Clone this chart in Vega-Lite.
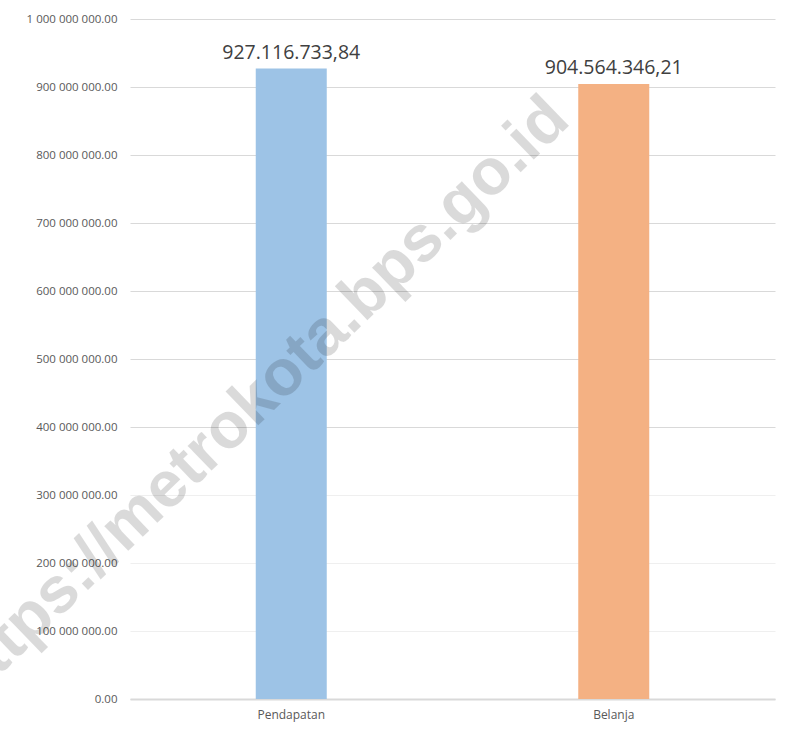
{
  "$schema": "https://vega.github.io/schema/vega-lite/v6.json",
  "width": 645,
  "height": 680,
  "autosize": {"type": "none"},
  "padding": {"left": 130, "top": 19, "right": 10, "bottom": 32},
  "background": "#ffffff",
  "data": {
    "values": [
      {"kategori": "Pendapatan", "nilai": 927116733.84},
      {"kategori": "Belanja", "nilai": 904564346.21}
    ]
  },
  "encoding": {
    "x": {
      "field": "kategori",
      "type": "nominal",
      "sort": ["Pendapatan", "Belanja"],
      "scale": {"paddingInner": 0, "paddingOuter": 0},
      "axis": {
        "title": null,
        "labelAngle": 0,
        "ticks": false,
        "domainColor": "#d9d9d9",
        "domainWidth": 2,
        "labelPadding": 10,
        "labelFont": "Open Sans",
        "labelFontSize": 12,
        "labelColor": "#595959"
      }
    },
    "y": {
      "field": "nilai",
      "type": "quantitative",
      "scale": {"domain": [0, 1000000000], "nice": false},
      "axis": {
        "title": null,
        "values": [0, 100000000, 200000000, 300000000, 400000000, 500000000, 600000000, 700000000, 800000000, 900000000, 1000000000],
        "labelExpr": "replace(replace(format(datum.value, ',.2f'), /\\./g, ' '), ',', '.')",
        "domain": false,
        "ticks": false,
        "labelPadding": 13,
        "labelFont": "Open Sans",
        "labelFontSize": 11.5,
        "labelColor": "#595959",
        "gridColor": {"condition": {"test": "datum.value < 350000000 && datum.value > 0", "value": "#efefef"}, "value": "#d9d9d9"},
        "gridWidth": 1
      }
    }
  },
  "layer": [
    {
      "mark": {"type": "bar", "size": 71},
      "encoding": {
        "color": {
          "field": "kategori",
          "type": "nominal",
          "scale": {"domain": ["Pendapatan", "Belanja"], "range": ["#9dc3e6", "#f4b183"]},
          "legend": null
        }
      }
    },
    {
      "mark": {"type": "text", "baseline": "alphabetic", "dy": -10, "font": "Open Sans", "fontSize": 19.5, "color": "#404040"},
      "encoding": {
        "text": {"field": "nilai", "type": "quantitative", "format": ",.2f"}
      }
    },
    {
      "data": {"values": [{"tanda": "https://metrokota.bps.go.id", "kategori": "Pendapatan", "posisi": 490000000}]},
      "mark": {"type": "text", "angle": -44, "align": "center", "baseline": "middle", "dx": -48, "font": "Liberation Sans", "fontWeight": "bold", "fontSize": 65, "color": "#000000", "opacity": 0.14},
      "encoding": {
        "x": {"field": "kategori", "type": "nominal"},
        "y": {"field": "posisi", "type": "quantitative"},
        "text": {"field": "tanda"}
      }
    }
  ],
  "config": {
    "view": {"stroke": null},
    "locale": {"number": {"decimal": ",", "thousands": ".", "grouping": [3], "currency": ["Rp", ""]}}
  }
}
